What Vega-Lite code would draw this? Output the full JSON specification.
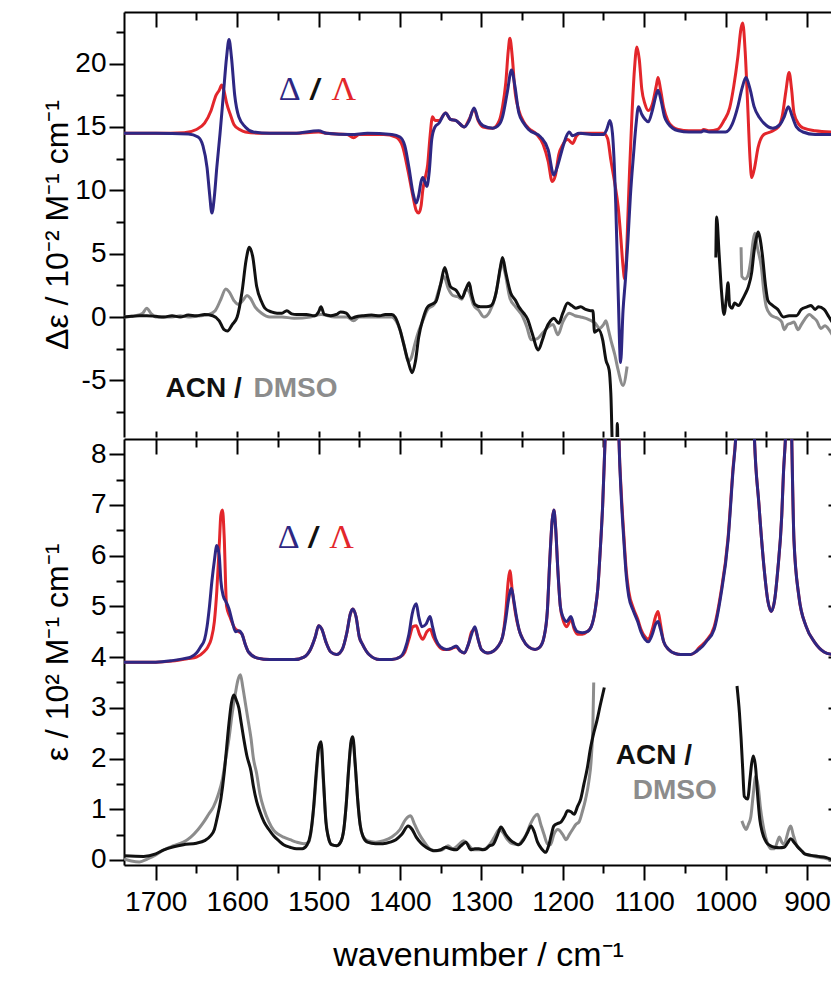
{
  "$schema": "https://vega.github.io/schema/vega-lite/v6.json",
  "background": "white",
  "padding": {"left": 41, "top": 11, "right": 0, "bottom": 0},
  "spacing": 0,
  "config": {
    "view": {"stroke": null},
    "line": {"interpolate": "monotone"},
    "axis": {"labelFont": "Liberation Sans", "titleFont": "Liberation Sans", "labelFontSize": 28, "titleFontSize": 32, "titleFontWeight": "normal", "labelColor": "black", "titleColor": "black", "tickColor": "black", "domainColor": "black", "tickWidth": 2, "domainWidth": 2, "grid": false}
  },
  "datasets": {
    "tR": [{"w":1739,"v":14.5},{"w":1700,"v":14.5},{"w":1665,"v":14.55},{"w":1650,"v":14.8},{"w":1640,"v":15.3},{"w":1632,"v":16.3},{"w":1626,"v":17.5},{"w":1622,"v":17.9},{"w":1619,"v":18.3},{"w":1616,"v":17.8},{"w":1613,"v":16.9},{"w":1608,"v":15.9},{"w":1604,"v":15.2},{"w":1597,"v":14.8},{"w":1590,"v":14.6},{"w":1570,"v":14.5},{"w":1530,"v":14.5},{"w":1500,"v":14.6},{"w":1490,"v":14.5},{"w":1465,"v":14.4},{"w":1457,"v":14.15},{"w":1450,"v":14.4},{"w":1420,"v":14.4},{"w":1405,"v":14.2},{"w":1397,"v":13.5},{"w":1390,"v":11.5},{"w":1384,"v":9.5},{"w":1380,"v":8.4},{"w":1377,"v":8.2},{"w":1374,"v":8.8},{"w":1372,"v":10.0},{"w":1369,"v":11.0},{"w":1366,"v":12.0},{"w":1363,"v":14.3},{"w":1360,"v":15.8},{"w":1357,"v":15.5},{"w":1352,"v":15.5},{"w":1344,"v":16.1},{"w":1338,"v":15.6},{"w":1331,"v":15.5},{"w":1321,"v":15.0},{"w":1315,"v":15.6},{"w":1309,"v":16.4},{"w":1304,"v":15.5},{"w":1298,"v":15.0},{"w":1286,"v":14.9},{"w":1278,"v":15.5},{"w":1274,"v":16.6},{"w":1270,"v":18.5},{"w":1267,"v":21.0},{"w":1265,"v":22.0},{"w":1262,"v":20.5},{"w":1259,"v":18.0},{"w":1254,"v":16.3},{"w":1248,"v":15.4},{"w":1242,"v":14.9},{"w":1232,"v":14.4},{"w":1224,"v":13.6},{"w":1218,"v":12.3},{"w":1213,"v":10.7},{"w":1209,"v":11.2},{"w":1205,"v":12.8},{"w":1200,"v":13.6},{"w":1194,"v":14.0},{"w":1188,"v":13.7},{"w":1183,"v":14.3},{"w":1178,"v":14.5},{"w":1150,"v":14.5},{"w":1145,"v":14.1},{"w":1141,"v":12.4},{"w":1136,"v":10.5},{"w":1132,"v":8.7},{"w":1129,"v":6.5},{"w":1126,"v":4.0},{"w":1124,"v":3.0},{"w":1122,"v":4.5},{"w":1120,"v":8.0},{"w":1118,"v":11.5},{"w":1115,"v":16.0},{"w":1112,"v":19.5},{"w":1109,"v":21.3},{"w":1106,"v":20.3},{"w":1103,"v":18.0},{"w":1099,"v":16.8},{"w":1095,"v":16.3},{"w":1090,"v":16.8},{"w":1085,"v":18.3},{"w":1083,"v":18.9},{"w":1080,"v":18.0},{"w":1076,"v":16.5},{"w":1071,"v":15.5},{"w":1065,"v":15.0},{"w":1058,"v":14.8},{"w":1045,"v":14.7},{"w":1030,"v":14.7},{"w":1027,"v":14.8},{"w":1020,"v":14.7},{"w":1010,"v":14.8},{"w":1002,"v":15.5},{"w":995,"v":16.5},{"w":990,"v":18.2},{"w":985,"v":20.5},{"w":981,"v":22.8},{"w":979,"v":23.2},{"w":976,"v":21.0},{"w":973,"v":16.9},{"w":970,"v":12.5},{"w":968,"v":11.0},{"w":965,"v":11.6},{"w":960,"v":13.4},{"w":953,"v":14.4},{"w":945,"v":14.6},{"w":935,"v":15.0},{"w":930,"v":16.0},{"w":926,"v":17.8},{"w":922,"v":19.3},{"w":919,"v":18.0},{"w":916,"v":16.1},{"w":910,"v":15.2},{"w":904,"v":14.9},{"w":890,"v":14.7},{"w":869,"v":14.6}],
    "tB": [{"w":1739,"v":14.5},{"w":1700,"v":14.5},{"w":1660,"v":14.45},{"w":1648,"v":14.2},{"w":1642,"v":13.5},{"w":1637,"v":11.8},{"w":1634,"v":9.8},{"w":1631,"v":8.2},{"w":1628,"v":9.5},{"w":1625,"v":11.8},{"w":1621,"v":14.5},{"w":1617,"v":17.5},{"w":1613,"v":20.5},{"w":1610,"v":21.9},{"w":1607,"v":20.5},{"w":1603,"v":17.5},{"w":1598,"v":15.8},{"w":1590,"v":15.0},{"w":1580,"v":14.6},{"w":1560,"v":14.5},{"w":1530,"v":14.5},{"w":1500,"v":14.7},{"w":1490,"v":14.5},{"w":1460,"v":14.4},{"w":1440,"v":14.5},{"w":1410,"v":14.4},{"w":1400,"v":14.2},{"w":1394,"v":13.5},{"w":1389,"v":11.8},{"w":1384,"v":9.8},{"w":1380,"v":9.0},{"w":1377,"v":9.6},{"w":1374,"v":10.7},{"w":1372,"v":11.0},{"w":1369,"v":10.6},{"w":1367,"v":10.3},{"w":1364,"v":11.5},{"w":1361,"v":14.0},{"w":1357,"v":15.0},{"w":1352,"v":15.3},{"w":1344,"v":16.1},{"w":1338,"v":15.6},{"w":1331,"v":15.5},{"w":1321,"v":15.0},{"w":1315,"v":15.5},{"w":1309,"v":16.5},{"w":1304,"v":15.6},{"w":1298,"v":15.1},{"w":1286,"v":14.9},{"w":1278,"v":15.2},{"w":1274,"v":15.8},{"w":1268,"v":17.8},{"w":1263,"v":19.5},{"w":1259,"v":18.3},{"w":1254,"v":16.1},{"w":1248,"v":15.3},{"w":1242,"v":14.8},{"w":1227,"v":14.2},{"w":1218,"v":13.2},{"w":1211,"v":11.2},{"w":1207,"v":11.8},{"w":1200,"v":13.4},{"w":1196,"v":14.2},{"w":1192,"v":14.6},{"w":1188,"v":14.3},{"w":1180,"v":14.5},{"w":1160,"v":14.4},{"w":1150,"v":14.4},{"w":1146,"v":14.8},{"w":1142,"v":15.5},{"w":1139,"v":14.5},{"w":1135,"v":9.0},{"w":1132,"v":2.0},{"w":1129,"v":-3.6},{"w":1126,"v":0.5},{"w":1123,"v":3.0},{"w":1120,"v":6.0},{"w":1117,"v":9.5},{"w":1113,"v":12.9},{"w":1110,"v":15.2},{"w":1107,"v":16.6},{"w":1103,"v":16.0},{"w":1099,"v":15.6},{"w":1095,"v":15.4},{"w":1090,"v":16.3},{"w":1085,"v":17.6},{"w":1083,"v":17.9},{"w":1079,"v":17.0},{"w":1075,"v":15.8},{"w":1071,"v":15.3},{"w":1065,"v":14.9},{"w":1058,"v":14.7},{"w":1045,"v":14.6},{"w":1030,"v":14.6},{"w":1027,"v":14.7},{"w":1020,"v":14.6},{"w":1000,"v":14.6},{"w":992,"v":15.2},{"w":985,"v":16.6},{"w":980,"v":18.0},{"w":975,"v":18.9},{"w":970,"v":18.0},{"w":965,"v":16.6},{"w":958,"v":15.7},{"w":953,"v":15.3},{"w":942,"v":14.9},{"w":933,"v":15.2},{"w":928,"v":15.8},{"w":923,"v":16.6},{"w":918,"v":15.8},{"w":913,"v":15.0},{"w":905,"v":14.6},{"w":890,"v":14.4},{"w":869,"v":14.4}],
    "tK": [{"w":1739,"v":0,"g":"a"},{"w":1730,"v":0.05,"g":"a"},{"w":1720,"v":0.1,"g":"a"},{"w":1711,"v":0.1,"g":"a"},{"w":1700,"v":0.05,"g":"a"},{"w":1690,"v":0.0,"g":"a"},{"w":1680,"v":0.1,"g":"a"},{"w":1670,"v":0.0,"g":"a"},{"w":1660,"v":0.15,"g":"a"},{"w":1650,"v":0.1,"g":"a"},{"w":1640,"v":0.2,"g":"a"},{"w":1630,"v":0.1,"g":"a"},{"w":1622,"v":-0.3,"g":"a"},{"w":1616,"v":-1.0,"g":"a"},{"w":1612,"v":-1.1,"g":"a"},{"w":1606,"v":-0.6,"g":"a"},{"w":1600,"v":0.0,"g":"a"},{"w":1594,"v":2.0,"g":"a"},{"w":1589,"v":4.5,"g":"a"},{"w":1585,"v":5.5,"g":"a"},{"w":1581,"v":4.8,"g":"a"},{"w":1576,"v":2.4,"g":"a"},{"w":1570,"v":1.2,"g":"a"},{"w":1566,"v":0.7,"g":"a"},{"w":1558,"v":0.4,"g":"a"},{"w":1551,"v":0.3,"g":"a"},{"w":1545,"v":0.3,"g":"a"},{"w":1539,"v":0.5,"g":"a"},{"w":1533,"v":0.25,"g":"a"},{"w":1527,"v":0.2,"g":"a"},{"w":1515,"v":0.2,"g":"a"},{"w":1505,"v":0.1,"g":"a"},{"w":1500,"v":0.4,"g":"a"},{"w":1497,"v":0.8,"g":"a"},{"w":1493,"v":0.2,"g":"a"},{"w":1485,"v":0.1,"g":"a"},{"w":1478,"v":0.2,"g":"a"},{"w":1473,"v":0.4,"g":"a"},{"w":1466,"v":0.3,"g":"a"},{"w":1460,"v":-0.1,"g":"a"},{"w":1455,"v":0.0,"g":"a"},{"w":1445,"v":0.1,"g":"a"},{"w":1435,"v":0.15,"g":"a"},{"w":1425,"v":0.1,"g":"a"},{"w":1418,"v":0.2,"g":"a"},{"w":1410,"v":0.2,"g":"a"},{"w":1406,"v":0.0,"g":"a"},{"w":1400,"v":-1.0,"g":"a"},{"w":1396,"v":-2.0,"g":"a"},{"w":1390,"v":-3.5,"g":"a"},{"w":1385,"v":-4.4,"g":"a"},{"w":1381,"v":-3.5,"g":"a"},{"w":1377,"v":-1.6,"g":"a"},{"w":1372,"v":-0.2,"g":"a"},{"w":1366,"v":0.8,"g":"a"},{"w":1361,"v":1.0,"g":"a"},{"w":1356,"v":1.2,"g":"a"},{"w":1350,"v":2.6,"g":"a"},{"w":1345,"v":3.9,"g":"a"},{"w":1341,"v":3.0,"g":"a"},{"w":1338,"v":2.4,"g":"a"},{"w":1331,"v":2.1,"g":"a"},{"w":1324,"v":1.5,"g":"a"},{"w":1319,"v":2.2,"g":"a"},{"w":1315,"v":2.7,"g":"a"},{"w":1312,"v":1.8,"g":"a"},{"w":1308,"v":1.0,"g":"a"},{"w":1301,"v":0.8,"g":"a"},{"w":1294,"v":0.8,"g":"a"},{"w":1288,"v":0.9,"g":"a"},{"w":1282,"v":1.9,"g":"a"},{"w":1277,"v":3.8,"g":"a"},{"w":1274,"v":4.7,"g":"a"},{"w":1270,"v":3.5,"g":"a"},{"w":1264,"v":1.9,"g":"a"},{"w":1258,"v":1.3,"g":"a"},{"w":1254,"v":0.8,"g":"a"},{"w":1248,"v":0.3,"g":"a"},{"w":1243,"v":-0.2,"g":"a"},{"w":1238,"v":-1.2,"g":"a"},{"w":1230,"v":-2.6,"g":"a"},{"w":1225,"v":-1.8,"g":"a"},{"w":1221,"v":-1.0,"g":"a"},{"w":1215,"v":-0.3,"g":"a"},{"w":1211,"v":-0.1,"g":"a"},{"w":1205,"v":-0.5,"g":"a"},{"w":1200,"v":0.3,"g":"a"},{"w":1194,"v":1.1,"g":"a"},{"w":1189,"v":0.9,"g":"a"},{"w":1184,"v":0.7,"g":"a"},{"w":1178,"v":0.8,"g":"a"},{"w":1172,"v":0.6,"g":"a"},{"w":1166,"v":0.5,"g":"a"},{"w":1163,"v":0.5,"g":"a"},{"w":1161,"v":-1.2,"g":"a"},{"w":1156,"v":-1.0,"g":"a"},{"w":1151,"v":-1.8,"g":"a"},{"w":1147,"v":-3.4,"g":"a"},{"w":1143,"v":-4.2,"g":"a"},{"w":1141,"v":-6.0,"g":"a"},{"w":1138,"v":-12,"g":"a"},{"w":1134,"v":-12,"g":"a"},{"w":1133,"v":-8.4,"g":"a"},{"w":1132,"v":-12,"g":"a"},
      {"w":1012,"v":4.7,"g":"b"},{"w":1011,"v":7.9,"g":"b"},{"w":1008,"v":5.0,"g":"b"},{"w":1005,"v":2.0,"g":"b"},{"w":1002,"v":0.2,"g":"b"},{"w":999,"v":1.5,"g":"b"},{"w":997,"v":2.7,"g":"b"},{"w":995,"v":0.9,"g":"b"},{"w":992,"v":0.7,"g":"b"},{"w":989,"v":1.1,"g":"b"},{"w":984,"v":0.9,"g":"b"},{"w":980,"v":1.3,"g":"b"},{"w":976,"v":1.8,"g":"b"},{"w":972,"v":2.4,"g":"b"},{"w":968,"v":3.5,"g":"b"},{"w":965,"v":5.2,"g":"b"},{"w":962,"v":6.3,"g":"b"},{"w":960,"v":6.7,"g":"b"},{"w":958,"v":6.3,"g":"b"},{"w":955,"v":5.0,"g":"b"},{"w":951,"v":2.5,"g":"b"},{"w":948,"v":1.3,"g":"b"},{"w":942,"v":0.9,"g":"b"},{"w":936,"v":0.6,"g":"b"},{"w":929,"v":0.0,"g":"b"},{"w":922,"v":0.1,"g":"b"},{"w":913,"v":0.1,"g":"b"},{"w":907,"v":0.6,"g":"b"},{"w":900,"v":0.8,"g":"b"},{"w":895,"v":0.9,"g":"b"},{"w":890,"v":0.6,"g":"b"},{"w":886,"v":0.8,"g":"b"},{"w":879,"v":0.6,"g":"b"},{"w":873,"v":0.0,"g":"b"},{"w":869,"v":-0.4,"g":"b"}],
    "tG": [{"w":1739,"v":0,"g":"a"},{"w":1725,"v":0.1,"g":"a"},{"w":1716,"v":0.3,"g":"a"},{"w":1711,"v":0.7,"g":"a"},{"w":1706,"v":0.3,"g":"a"},{"w":1700,"v":0.0,"g":"a"},{"w":1680,"v":0.0,"g":"a"},{"w":1670,"v":0.1,"g":"a"},{"w":1660,"v":0.0,"g":"a"},{"w":1645,"v":0.1,"g":"a"},{"w":1635,"v":0.2,"g":"a"},{"w":1627,"v":0.5,"g":"a"},{"w":1620,"v":1.4,"g":"a"},{"w":1614,"v":2.2,"g":"a"},{"w":1610,"v":2.0,"g":"a"},{"w":1604,"v":1.3,"g":"a"},{"w":1599,"v":1.0,"g":"a"},{"w":1593,"v":1.3,"g":"a"},{"w":1588,"v":1.7,"g":"a"},{"w":1584,"v":1.5,"g":"a"},{"w":1578,"v":0.8,"g":"a"},{"w":1570,"v":0.3,"g":"a"},{"w":1560,"v":0.0,"g":"a"},{"w":1545,"v":0.0,"g":"a"},{"w":1530,"v":-0.1,"g":"a"},{"w":1510,"v":0.0,"g":"a"},{"w":1497,"v":0.2,"g":"a"},{"w":1480,"v":0.0,"g":"a"},{"w":1465,"v":0.0,"g":"a"},{"w":1457,"v":-0.3,"g":"a"},{"w":1450,"v":0.0,"g":"a"},{"w":1430,"v":0.0,"g":"a"},{"w":1410,"v":0.0,"g":"a"},{"w":1405,"v":-0.3,"g":"a"},{"w":1400,"v":-1.0,"g":"a"},{"w":1395,"v":-2.2,"g":"a"},{"w":1390,"v":-3.5,"g":"a"},{"w":1386,"v":-3.2,"g":"a"},{"w":1382,"v":-2.2,"g":"a"},{"w":1378,"v":-1.3,"g":"a"},{"w":1372,"v":-0.3,"g":"a"},{"w":1366,"v":0.6,"g":"a"},{"w":1358,"v":1.0,"g":"a"},{"w":1352,"v":2.2,"g":"a"},{"w":1346,"v":3.2,"g":"a"},{"w":1341,"v":2.3,"g":"a"},{"w":1335,"v":1.7,"g":"a"},{"w":1329,"v":1.6,"g":"a"},{"w":1324,"v":1.4,"g":"a"},{"w":1319,"v":2.2,"g":"a"},{"w":1315,"v":2.0,"g":"a"},{"w":1310,"v":1.0,"g":"a"},{"w":1303,"v":0.5,"g":"a"},{"w":1297,"v":0.0,"g":"a"},{"w":1290,"v":0.4,"g":"a"},{"w":1283,"v":1.6,"g":"a"},{"w":1278,"v":3.3,"g":"a"},{"w":1275,"v":4.3,"g":"a"},{"w":1271,"v":3.5,"g":"a"},{"w":1265,"v":1.5,"g":"a"},{"w":1258,"v":0.8,"g":"a"},{"w":1249,"v":0.0,"g":"a"},{"w":1244,"v":-0.8,"g":"a"},{"w":1239,"v":-1.8,"g":"a"},{"w":1231,"v":-1.7,"g":"a"},{"w":1224,"v":-1.2,"g":"a"},{"w":1218,"v":-0.8,"g":"a"},{"w":1212,"v":-0.6,"g":"a"},{"w":1206,"v":-1.4,"g":"a"},{"w":1200,"v":-0.4,"g":"a"},{"w":1192,"v":0.3,"g":"a"},{"w":1185,"v":0.1,"g":"a"},{"w":1178,"v":0.0,"g":"a"},{"w":1168,"v":-0.2,"g":"a"},{"w":1160,"v":-0.5,"g":"a"},{"w":1155,"v":-0.9,"g":"a"},{"w":1150,"v":-0.6,"g":"a"},{"w":1147,"v":-0.3,"g":"a"},{"w":1144,"v":-1.0,"g":"a"},{"w":1141,"v":-1.8,"g":"a"},{"w":1136,"v":-3.0,"g":"a"},{"w":1132,"v":-4.2,"g":"a"},{"w":1126,"v":-5.4,"g":"a"},{"w":1121,"v":-3.9,"g":"a"},
      {"w":981,"v":5.5,"g":"b"},{"w":980,"v":3.2,"g":"b"},{"w":976,"v":3.0,"g":"b"},{"w":973,"v":3.2,"g":"b"},{"w":969,"v":4.5,"g":"b"},{"w":966,"v":6.1,"g":"b"},{"w":964,"v":6.6,"g":"b"},{"w":961,"v":5.5,"g":"b"},{"w":956,"v":3.9,"g":"b"},{"w":953,"v":2.0,"g":"b"},{"w":950,"v":0.8,"g":"b"},{"w":945,"v":0.2,"g":"b"},{"w":940,"v":0.0,"g":"b"},{"w":936,"v":-0.1,"g":"b"},{"w":931,"v":-0.4,"g":"b"},{"w":928,"v":-1.0,"g":"b"},{"w":924,"v":-0.6,"g":"b"},{"w":920,"v":-0.5,"g":"b"},{"w":916,"v":-0.4,"g":"b"},{"w":911,"v":-1.0,"g":"b"},{"w":907,"v":-0.6,"g":"b"},{"w":903,"v":-0.2,"g":"b"},{"w":897,"v":0.2,"g":"b"},{"w":893,"v":0.0,"g":"b"},{"w":888,"v":-0.3,"g":"b"},{"w":883,"v":-0.9,"g":"b"},{"w":878,"v":-0.7,"g":"b"},{"w":873,"v":-1.0,"g":"b"},{"w":869,"v":-1.4,"g":"b"}],
    "bR": [{"w":1739,"v":3.9},{"w":1700,"v":3.9},{"w":1680,"v":3.92},{"w":1660,"v":3.97},{"w":1650,"v":4.0},{"w":1641,"v":4.1},{"w":1636,"v":4.2},{"w":1632,"v":4.35},{"w":1628,"v":4.7},{"w":1625,"v":5.3},{"w":1622,"v":6.2},{"w":1620,"v":6.8},{"w":1618,"v":6.9},{"w":1616,"v":6.4},{"w":1613,"v":5.0},{"w":1609,"v":4.8},{"w":1604,"v":4.6},{"w":1598,"v":4.5},{"w":1594,"v":4.45},{"w":1590,"v":4.25},{"w":1586,"v":4.1},{"w":1575,"v":3.98},{"w":1560,"v":3.95},{"w":1530,"v":3.95},{"w":1518,"v":4.0},{"w":1510,"v":4.15},{"w":1504,"v":4.4},{"w":1500,"v":4.62},{"w":1496,"v":4.55},{"w":1491,"v":4.3},{"w":1485,"v":4.1},{"w":1478,"v":4.05},{"w":1471,"v":4.15},{"w":1465,"v":4.5},{"w":1461,"v":4.85},{"w":1458,"v":4.95},{"w":1454,"v":4.8},{"w":1450,"v":4.4},{"w":1446,"v":4.25},{"w":1438,"v":4.05},{"w":1425,"v":3.95},{"w":1410,"v":3.95},{"w":1400,"v":4.0},{"w":1394,"v":4.1},{"w":1389,"v":4.35},{"w":1384,"v":4.6},{"w":1380,"v":4.62},{"w":1376,"v":4.45},{"w":1372,"v":4.35},{"w":1367,"v":4.5},{"w":1363,"v":4.55},{"w":1359,"v":4.4},{"w":1354,"v":4.25},{"w":1347,"v":4.15},{"w":1340,"v":4.15},{"w":1335,"v":4.18},{"w":1331,"v":4.2},{"w":1326,"v":4.12},{"w":1321,"v":4.08},{"w":1316,"v":4.25},{"w":1312,"v":4.5},{"w":1308,"v":4.55},{"w":1304,"v":4.35},{"w":1300,"v":4.15},{"w":1292,"v":4.08},{"w":1285,"v":4.12},{"w":1280,"v":4.2},{"w":1274,"v":4.4},{"w":1270,"v":4.9},{"w":1267,"v":5.5},{"w":1265,"v":5.7},{"w":1262,"v":5.3},{"w":1258,"v":4.85},{"w":1254,"v":4.55},{"w":1249,"v":4.35},{"w":1242,"v":4.2},{"w":1234,"v":4.15},{"w":1228,"v":4.2},{"w":1223,"v":4.4},{"w":1219,"v":4.9},{"w":1216,"v":5.9},{"w":1213,"v":6.7},{"w":1211,"v":6.9},{"w":1209,"v":6.6},{"w":1206,"v":5.7},{"w":1203,"v":5.0},{"w":1200,"v":4.75},{"w":1195,"v":4.6},{"w":1190,"v":4.75},{"w":1186,"v":4.55},{"w":1182,"v":4.45},{"w":1176,"v":4.45},{"w":1170,"v":4.5},{"w":1165,"v":4.6},{"w":1160,"v":4.95},{"w":1157,"v":5.35},{"w":1154,"v":6.1},{"w":1151,"v":7.0},{"w":1148,"v":8.3},{"w":1144,"v":10},{"w":1138,"v":12},{"w":1134,"v":11},{"w":1131,"v":8.3},{"w":1128,"v":7.2},{"w":1125,"v":6.4},{"w":1122,"v":5.7},{"w":1119,"v":5.3},{"w":1113,"v":4.95},{"w":1108,"v":4.75},{"w":1104,"v":4.55},{"w":1099,"v":4.4},{"w":1095,"v":4.35},{"w":1090,"v":4.55},{"w":1086,"v":4.8},{"w":1083,"v":4.9},{"w":1080,"v":4.65},{"w":1076,"v":4.3},{"w":1070,"v":4.15},{"w":1062,"v":4.07},{"w":1055,"v":4.05},{"w":1043,"v":4.05},{"w":1037,"v":4.1},{"w":1033,"v":4.18},{"w":1028,"v":4.25},{"w":1024,"v":4.32},{"w":1014,"v":4.6},{"w":1006,"v":5.25},{"w":997,"v":6.35},{"w":991,"v":7.7},{"w":987,"v":8.5},{"w":981,"v":12},{"w":976,"v":14},{"w":970,"v":12},{"w":965,"v":8.5},{"w":959,"v":7.0},{"w":953,"v":5.8},{"w":948,"v":5.1},{"w":944,"v":4.9},{"w":940,"v":5.1},{"w":936,"v":5.7},{"w":931,"v":6.8},{"w":929,"v":7.6},{"w":926,"v":8.5},{"w":922,"v":11},{"w":919,"v":8.5},{"w":916,"v":6.3},{"w":910,"v":5.2},{"w":901,"v":4.6},{"w":891,"v":4.3},{"w":879,"v":4.1},{"w":869,"v":4.05}],
    "bB": [{"w":1739,"v":3.9},{"w":1700,"v":3.9},{"w":1680,"v":3.93},{"w":1665,"v":3.97},{"w":1657,"v":4.0},{"w":1650,"v":4.08},{"w":1645,"v":4.2},{"w":1640,"v":4.35},{"w":1637,"v":4.6},{"w":1634,"v":5.0},{"w":1631,"v":5.5},{"w":1628,"v":5.9},{"w":1625,"v":6.2},{"w":1622,"v":6.0},{"w":1620,"v":5.5},{"w":1617,"v":5.2},{"w":1614,"v":5.1},{"w":1610,"v":4.95},{"w":1606,"v":4.7},{"w":1602,"v":4.5},{"w":1598,"v":4.52},{"w":1594,"v":4.45},{"w":1590,"v":4.25},{"w":1586,"v":4.1},{"w":1575,"v":3.98},{"w":1560,"v":3.95},{"w":1530,"v":3.95},{"w":1518,"v":4.0},{"w":1510,"v":4.15},{"w":1504,"v":4.4},{"w":1500,"v":4.62},{"w":1496,"v":4.55},{"w":1491,"v":4.3},{"w":1485,"v":4.1},{"w":1478,"v":4.05},{"w":1471,"v":4.15},{"w":1465,"v":4.5},{"w":1461,"v":4.85},{"w":1458,"v":4.95},{"w":1454,"v":4.8},{"w":1450,"v":4.4},{"w":1446,"v":4.25},{"w":1438,"v":4.05},{"w":1425,"v":3.95},{"w":1410,"v":3.95},{"w":1400,"v":4.0},{"w":1394,"v":4.15},{"w":1389,"v":4.45},{"w":1385,"v":4.85},{"w":1380,"v":5.05},{"w":1377,"v":4.8},{"w":1373,"v":4.6},{"w":1368,"v":4.65},{"w":1363,"v":4.8},{"w":1360,"v":4.6},{"w":1356,"v":4.35},{"w":1350,"v":4.2},{"w":1343,"v":4.15},{"w":1337,"v":4.17},{"w":1331,"v":4.22},{"w":1326,"v":4.12},{"w":1321,"v":4.08},{"w":1316,"v":4.25},{"w":1312,"v":4.45},{"w":1308,"v":4.6},{"w":1304,"v":4.35},{"w":1300,"v":4.15},{"w":1292,"v":4.08},{"w":1285,"v":4.12},{"w":1280,"v":4.2},{"w":1274,"v":4.4},{"w":1270,"v":4.75},{"w":1267,"v":5.1},{"w":1263,"v":5.35},{"w":1260,"v":5.1},{"w":1257,"v":4.8},{"w":1253,"v":4.5},{"w":1249,"v":4.35},{"w":1242,"v":4.2},{"w":1234,"v":4.15},{"w":1228,"v":4.2},{"w":1223,"v":4.4},{"w":1219,"v":4.9},{"w":1216,"v":5.9},{"w":1213,"v":6.7},{"w":1211,"v":6.9},{"w":1209,"v":6.6},{"w":1206,"v":5.7},{"w":1203,"v":5.0},{"w":1200,"v":4.8},{"w":1195,"v":4.7},{"w":1190,"v":4.8},{"w":1186,"v":4.6},{"w":1182,"v":4.5},{"w":1176,"v":4.48},{"w":1170,"v":4.5},{"w":1165,"v":4.6},{"w":1160,"v":4.95},{"w":1157,"v":5.35},{"w":1154,"v":6.1},{"w":1151,"v":7.0},{"w":1148,"v":8.3},{"w":1144,"v":10},{"w":1138,"v":12},{"w":1134,"v":11},{"w":1131,"v":8.3},{"w":1128,"v":7.1},{"w":1125,"v":6.3},{"w":1122,"v":5.6},{"w":1119,"v":5.2},{"w":1113,"v":4.9},{"w":1108,"v":4.7},{"w":1104,"v":4.5},{"w":1099,"v":4.35},{"w":1095,"v":4.3},{"w":1090,"v":4.45},{"w":1086,"v":4.65},{"w":1083,"v":4.7},{"w":1080,"v":4.55},{"w":1076,"v":4.3},{"w":1070,"v":4.15},{"w":1062,"v":4.07},{"w":1055,"v":4.05},{"w":1043,"v":4.05},{"w":1037,"v":4.1},{"w":1033,"v":4.15},{"w":1028,"v":4.22},{"w":1024,"v":4.3},{"w":1014,"v":4.55},{"w":1006,"v":5.2},{"w":997,"v":6.3},{"w":991,"v":7.65},{"w":987,"v":8.5},{"w":981,"v":12},{"w":976,"v":14},{"w":970,"v":12},{"w":965,"v":8.5},{"w":959,"v":7.0},{"w":953,"v":5.8},{"w":948,"v":5.1},{"w":944,"v":4.9},{"w":940,"v":5.1},{"w":936,"v":5.7},{"w":931,"v":6.8},{"w":929,"v":7.6},{"w":926,"v":8.5},{"w":922,"v":11},{"w":919,"v":8.5},{"w":916,"v":6.3},{"w":910,"v":5.2},{"w":901,"v":4.6},{"w":891,"v":4.3},{"w":879,"v":4.1},{"w":869,"v":4.05}],
    "bK": [{"w":1739,"v":0.08,"g":"a"},{"w":1715,"v":0.07,"g":"a"},{"w":1700,"v":0.12,"g":"a"},{"w":1690,"v":0.2,"g":"a"},{"w":1678,"v":0.26,"g":"a"},{"w":1666,"v":0.3,"g":"a"},{"w":1650,"v":0.33,"g":"a"},{"w":1640,"v":0.38,"g":"a"},{"w":1633,"v":0.47,"g":"a"},{"w":1628,"v":0.6,"g":"a"},{"w":1625,"v":0.8,"g":"a"},{"w":1620,"v":1.2,"g":"a"},{"w":1616,"v":1.7,"g":"a"},{"w":1613,"v":2.2,"g":"a"},{"w":1610,"v":2.7,"g":"a"},{"w":1607,"v":3.1,"g":"a"},{"w":1604,"v":3.25,"g":"a"},{"w":1601,"v":3.15,"g":"a"},{"w":1598,"v":3.0,"g":"a"},{"w":1595,"v":2.7,"g":"a"},{"w":1592,"v":2.4,"g":"a"},{"w":1588,"v":2.05,"g":"a"},{"w":1583,"v":1.75,"g":"a"},{"w":1580,"v":1.45,"g":"a"},{"w":1576,"v":1.15,"g":"a"},{"w":1572,"v":0.95,"g":"a"},{"w":1567,"v":0.75,"g":"a"},{"w":1561,"v":0.6,"g":"a"},{"w":1555,"v":0.47,"g":"a"},{"w":1549,"v":0.38,"g":"a"},{"w":1543,"v":0.3,"g":"a"},{"w":1535,"v":0.25,"g":"a"},{"w":1527,"v":0.22,"g":"a"},{"w":1520,"v":0.22,"g":"a"},{"w":1514,"v":0.3,"g":"a"},{"w":1510,"v":0.5,"g":"a"},{"w":1506,"v":1.05,"g":"a"},{"w":1503,"v":1.7,"g":"a"},{"w":1500,"v":2.2,"g":"a"},{"w":1497,"v":2.33,"g":"a"},{"w":1494,"v":1.6,"g":"a"},{"w":1491,"v":0.75,"g":"a"},{"w":1488,"v":0.45,"g":"a"},{"w":1484,"v":0.3,"g":"a"},{"w":1478,"v":0.28,"g":"a"},{"w":1473,"v":0.35,"g":"a"},{"w":1469,"v":0.6,"g":"a"},{"w":1466,"v":1.1,"g":"a"},{"w":1463,"v":1.8,"g":"a"},{"w":1460,"v":2.35,"g":"a"},{"w":1458,"v":2.43,"g":"a"},{"w":1455,"v":1.9,"g":"a"},{"w":1452,"v":1.2,"g":"a"},{"w":1449,"v":0.7,"g":"a"},{"w":1445,"v":0.45,"g":"a"},{"w":1440,"v":0.35,"g":"a"},{"w":1430,"v":0.32,"g":"a"},{"w":1421,"v":0.32,"g":"a"},{"w":1412,"v":0.35,"g":"a"},{"w":1405,"v":0.4,"g":"a"},{"w":1398,"v":0.5,"g":"a"},{"w":1390,"v":0.67,"g":"a"},{"w":1385,"v":0.6,"g":"a"},{"w":1380,"v":0.45,"g":"a"},{"w":1374,"v":0.33,"g":"a"},{"w":1368,"v":0.25,"g":"a"},{"w":1362,"v":0.2,"g":"a"},{"w":1358,"v":0.18,"g":"a"},{"w":1350,"v":0.2,"g":"a"},{"w":1344,"v":0.25,"g":"a"},{"w":1338,"v":0.22,"g":"a"},{"w":1331,"v":0.2,"g":"a"},{"w":1325,"v":0.28,"g":"a"},{"w":1319,"v":0.35,"g":"a"},{"w":1313,"v":0.2,"g":"a"},{"w":1308,"v":0.22,"g":"a"},{"w":1303,"v":0.22,"g":"a"},{"w":1298,"v":0.2,"g":"a"},{"w":1294,"v":0.22,"g":"a"},{"w":1290,"v":0.28,"g":"a"},{"w":1286,"v":0.3,"g":"a"},{"w":1280,"v":0.5,"g":"a"},{"w":1276,"v":0.65,"g":"a"},{"w":1270,"v":0.5,"g":"a"},{"w":1265,"v":0.4,"g":"a"},{"w":1261,"v":0.35,"g":"a"},{"w":1254,"v":0.3,"g":"a"},{"w":1248,"v":0.4,"g":"a"},{"w":1243,"v":0.55,"g":"a"},{"w":1239,"v":0.67,"g":"a"},{"w":1235,"v":0.55,"g":"a"},{"w":1231,"v":0.35,"g":"a"},{"w":1226,"v":0.22,"g":"a"},{"w":1221,"v":0.15,"g":"a"},{"w":1217,"v":0.3,"g":"a"},{"w":1214,"v":0.5,"g":"a"},{"w":1211,"v":0.67,"g":"a"},{"w":1206,"v":0.72,"g":"a"},{"w":1202,"v":0.75,"g":"a"},{"w":1198,"v":0.85,"g":"a"},{"w":1194,"v":0.97,"g":"a"},{"w":1190,"v":0.95,"g":"a"},{"w":1186,"v":0.9,"g":"a"},{"w":1182,"v":1.05,"g":"a"},{"w":1178,"v":1.2,"g":"a"},{"w":1174,"v":1.5,"g":"a"},{"w":1170,"v":1.8,"g":"a"},{"w":1166,"v":2.2,"g":"a"},{"w":1162,"v":2.5,"g":"a"},{"w":1158,"v":2.75,"g":"a"},{"w":1154,"v":3.05,"g":"a"},{"w":1149,"v":3.4,"g":"a"},
      {"w":986,"v":3.43,"g":"b"},{"w":983,"v":2.9,"g":"b"},{"w":981,"v":2.4,"g":"b"},{"w":979,"v":1.8,"g":"b"},{"w":977,"v":1.25,"g":"b"},{"w":973,"v":1.2,"g":"b"},{"w":970,"v":1.6,"g":"b"},{"w":968,"v":1.9,"g":"b"},{"w":966,"v":2.05,"g":"b"},{"w":963,"v":1.8,"g":"b"},{"w":961,"v":1.35,"g":"b"},{"w":958,"v":0.8,"g":"b"},{"w":955,"v":0.55,"g":"b"},{"w":950,"v":0.35,"g":"b"},{"w":945,"v":0.28,"g":"b"},{"w":940,"v":0.25,"g":"b"},{"w":934,"v":0.24,"g":"b"},{"w":928,"v":0.25,"g":"b"},{"w":924,"v":0.33,"g":"b"},{"w":920,"v":0.42,"g":"b"},{"w":916,"v":0.35,"g":"b"},{"w":911,"v":0.25,"g":"b"},{"w":906,"v":0.17,"g":"b"},{"w":903,"v":0.12,"g":"b"},{"w":895,"v":0.09,"g":"b"},{"w":886,"v":0.07,"g":"b"},{"w":877,"v":0.05,"g":"b"},{"w":869,"v":0.0,"g":"b"}],
    "bG": [{"w":1739,"v":0.02,"g":"a"},{"w":1730,"v":-0.02,"g":"a"},{"w":1720,"v":-0.04,"g":"a"},{"w":1710,"v":0.02,"g":"a"},{"w":1700,"v":0.1,"g":"a"},{"w":1690,"v":0.2,"g":"a"},{"w":1678,"v":0.28,"g":"a"},{"w":1666,"v":0.35,"g":"a"},{"w":1657,"v":0.45,"g":"a"},{"w":1648,"v":0.6,"g":"a"},{"w":1641,"v":0.75,"g":"a"},{"w":1635,"v":0.9,"g":"a"},{"w":1629,"v":1.05,"g":"a"},{"w":1623,"v":1.3,"g":"a"},{"w":1618,"v":1.6,"g":"a"},{"w":1614,"v":2.0,"g":"a"},{"w":1610,"v":2.4,"g":"a"},{"w":1606,"v":2.9,"g":"a"},{"w":1602,"v":3.3,"g":"a"},{"w":1599,"v":3.55,"g":"a"},{"w":1596,"v":3.65,"g":"a"},{"w":1593,"v":3.4,"g":"a"},{"w":1590,"v":3.1,"g":"a"},{"w":1587,"v":2.8,"g":"a"},{"w":1583,"v":2.4,"g":"a"},{"w":1580,"v":2.0,"g":"a"},{"w":1576,"v":1.7,"g":"a"},{"w":1572,"v":1.3,"g":"a"},{"w":1567,"v":1.0,"g":"a"},{"w":1561,"v":0.75,"g":"a"},{"w":1555,"v":0.58,"g":"a"},{"w":1549,"v":0.5,"g":"a"},{"w":1543,"v":0.45,"g":"a"},{"w":1535,"v":0.4,"g":"a"},{"w":1527,"v":0.35,"g":"a"},{"w":1518,"v":0.32,"g":"a"},{"w":1512,"v":0.35,"g":"a"},{"w":1508,"v":0.7,"g":"a"},{"w":1505,"v":1.2,"g":"a"},{"w":1502,"v":1.8,"g":"a"},{"w":1500,"v":2.2,"g":"a"},{"w":1497,"v":2.28,"g":"a"},{"w":1494,"v":1.5,"g":"a"},{"w":1491,"v":0.8,"g":"a"},{"w":1488,"v":0.45,"g":"a"},{"w":1484,"v":0.3,"g":"a"},{"w":1478,"v":0.28,"g":"a"},{"w":1473,"v":0.35,"g":"a"},{"w":1469,"v":0.6,"g":"a"},{"w":1466,"v":1.1,"g":"a"},{"w":1463,"v":1.8,"g":"a"},{"w":1460,"v":2.3,"g":"a"},{"w":1458,"v":2.38,"g":"a"},{"w":1455,"v":1.85,"g":"a"},{"w":1452,"v":1.2,"g":"a"},{"w":1449,"v":0.7,"g":"a"},{"w":1445,"v":0.45,"g":"a"},{"w":1440,"v":0.38,"g":"a"},{"w":1430,"v":0.35,"g":"a"},{"w":1420,"v":0.38,"g":"a"},{"w":1410,"v":0.45,"g":"a"},{"w":1400,"v":0.6,"g":"a"},{"w":1393,"v":0.8,"g":"a"},{"w":1387,"v":0.87,"g":"a"},{"w":1382,"v":0.7,"g":"a"},{"w":1376,"v":0.5,"g":"a"},{"w":1370,"v":0.35,"g":"a"},{"w":1362,"v":0.2,"g":"a"},{"w":1355,"v":0.18,"g":"a"},{"w":1348,"v":0.2,"g":"a"},{"w":1341,"v":0.28,"g":"a"},{"w":1335,"v":0.22,"g":"a"},{"w":1328,"v":0.3,"g":"a"},{"w":1322,"v":0.38,"g":"a"},{"w":1316,"v":0.3,"g":"a"},{"w":1310,"v":0.2,"g":"a"},{"w":1302,"v":0.2,"g":"a"},{"w":1295,"v":0.22,"g":"a"},{"w":1290,"v":0.3,"g":"a"},{"w":1284,"v":0.45,"g":"a"},{"w":1278,"v":0.6,"g":"a"},{"w":1274,"v":0.55,"g":"a"},{"w":1268,"v":0.4,"g":"a"},{"w":1262,"v":0.32,"g":"a"},{"w":1255,"v":0.3,"g":"a"},{"w":1250,"v":0.38,"g":"a"},{"w":1245,"v":0.5,"g":"a"},{"w":1240,"v":0.7,"g":"a"},{"w":1235,"v":0.85,"g":"a"},{"w":1231,"v":0.9,"g":"a"},{"w":1227,"v":0.7,"g":"a"},{"w":1223,"v":0.5,"g":"a"},{"w":1219,"v":0.32,"g":"a"},{"w":1215,"v":0.3,"g":"a"},{"w":1211,"v":0.5,"g":"a"},{"w":1206,"v":0.6,"g":"a"},{"w":1200,"v":0.5,"g":"a"},{"w":1196,"v":0.4,"g":"a"},{"w":1192,"v":0.5,"g":"a"},{"w":1188,"v":0.6,"g":"a"},{"w":1184,"v":0.7,"g":"a"},{"w":1180,"v":0.75,"g":"a"},{"w":1176,"v":0.95,"g":"a"},{"w":1172,"v":1.2,"g":"a"},{"w":1168,"v":1.55,"g":"a"},{"w":1165,"v":2.0,"g":"a"},{"w":1163,"v":2.7,"g":"a"},{"w":1162,"v":3.5,"g":"a"},
      {"w":980,"v":0.77,"g":"b"},{"w":977,"v":0.65,"g":"b"},{"w":975,"v":0.6,"g":"b"},{"w":972,"v":0.7,"g":"b"},{"w":969,"v":0.85,"g":"b"},{"w":966,"v":1.3,"g":"b"},{"w":963,"v":1.65,"g":"b"},{"w":960,"v":1.45,"g":"b"},{"w":957,"v":1.0,"g":"b"},{"w":953,"v":0.6,"g":"b"},{"w":949,"v":0.35,"g":"b"},{"w":944,"v":0.22,"g":"b"},{"w":940,"v":0.22,"g":"b"},{"w":936,"v":0.38,"g":"b"},{"w":934,"v":0.45,"g":"b"},{"w":931,"v":0.35,"g":"b"},{"w":928,"v":0.3,"g":"b"},{"w":925,"v":0.45,"g":"b"},{"w":922,"v":0.62,"g":"b"},{"w":920,"v":0.67,"g":"b"},{"w":917,"v":0.5,"g":"b"},{"w":913,"v":0.3,"g":"b"},{"w":908,"v":0.2,"g":"b"},{"w":903,"v":0.12,"g":"b"},{"w":895,"v":0.08,"g":"b"},{"w":886,"v":0.05,"g":"b"},{"w":877,"v":0.03,"g":"b"},{"w":869,"v":0.0,"g":"b"}]
  },
  "vconcat": [
    {
      "width": 708,
      "height": 425,
      "resolve": {"axis": {"x": "independent", "y": "independent"}},
      "layer": [
        {
          "data": {"name": "tG"},
          "mark": {"type": "line", "color": "#8c8c8c", "strokeWidth": 3, "clip": true},
          "encoding": {
            "x": {"field": "w", "type": "quantitative", "scale": {"domain": [869.3, 1739], "reverse": true, "nice": false, "zero": false},
                  "axis": {"orient": "top", "values": [900,1000,1100,1200,1300,1400,1500,1600,1700], "tickSize": -15, "labels": false, "title": null, "domain": true}},
            "y": {"field": "v", "type": "quantitative", "scale": {"domain": [-9.47, 24.07], "nice": false, "zero": false},
                  "axis": {"orient": "left", "values": [-5,0,5,10,15,20], "tickSize": 15, "labelPadding": 3, "labelExpr": "replace(datum.label, '\u2212', '-')", "minExtent": 50, "maxExtent": 50, "title": "Δε / 10⁻² M⁻¹ cm⁻¹", "titlePadding": 0, "domain": true}},
            "detail": {"field": "g"}
          }
        },
        {
          "data": {"name": "tK"},
          "mark": {"type": "line", "color": "#111111", "strokeWidth": 3, "clip": true},
          "encoding": {
            "x": {"field": "w", "type": "quantitative", "axis": {"orient": "top", "values": [950,1050,1150,1250,1350,1450,1550,1650], "tickSize": -8, "labels": false, "title": null, "domain": false}},
            "y": {"field": "v", "type": "quantitative", "axis": {"orient": "left", "values": [-7.5,-2.5,2.5,7.5,12.5,17.5,22.5], "tickSize": 8, "labels": false, "title": null, "domain": false, "minExtent": 50, "maxExtent": 50}},
            "detail": {"field": "g"}
          }
        },
        {
          "data": {"name": "tR"},
          "mark": {"type": "line", "color": "#e3262b", "strokeWidth": 3, "clip": true},
          "encoding": {
            "x": {"field": "w", "type": "quantitative", "axis": {"orient": "bottom", "values": [900,950,1000,1050,1100,1150,1200,1250,1300,1350,1400,1450,1500,1550,1600,1650,1700], "tickSize": -6, "labels": false, "title": null, "domain": false}},
            "y": {"field": "v", "type": "quantitative", "axis": null}
          }
        },
        {
          "data": {"name": "tB"},
          "mark": {"type": "line", "color": "#2e2783", "strokeWidth": 3, "clip": true},
          "encoding": {
            "x": {"field": "w", "type": "quantitative", "axis": null},
            "y": {"field": "v", "type": "quantitative", "axis": null}
          }
        },
        {
          "data": {"values": [{"w": 1549, "v": 17.1, "t": "Δ"}]},
          "mark": {"type": "text", "font": "Liberation Serif", "fontSize": 34, "color": "#2e2783", "align": "left", "baseline": "alphabetic"},
          "encoding": {"x": {"field": "w", "type": "quantitative", "axis": null}, "y": {"field": "v", "type": "quantitative", "axis": null}, "text": {"field": "t"}}
        },
        {
          "data": {"values": [{"w": 1510, "v": 17.1, "t": "/"}]},
          "mark": {"type": "text", "font": "Liberation Sans", "fontSize": 30, "fontWeight": "bold", "fontStyle": "italic", "color": "#111111", "align": "left", "baseline": "alphabetic"},
          "encoding": {"x": {"field": "w", "type": "quantitative", "axis": null}, "y": {"field": "v", "type": "quantitative", "axis": null}, "text": {"field": "t"}}
        },
        {
          "data": {"values": [{"w": 1484, "v": 17.1, "t": "Λ"}]},
          "mark": {"type": "text", "font": "Liberation Serif", "fontSize": 34, "color": "#e3262b", "align": "left", "baseline": "alphabetic"},
          "encoding": {"x": {"field": "w", "type": "quantitative", "axis": null}, "y": {"field": "v", "type": "quantitative", "axis": null}, "text": {"field": "t"}}
        },
        {
          "data": {"values": [{"w": 1688, "v": -6.3, "t": "ACN /"}]},
          "mark": {"type": "text", "font": "Liberation Sans", "fontSize": 28, "fontWeight": "bold", "color": "#111111", "align": "left", "baseline": "alphabetic"},
          "encoding": {"x": {"field": "w", "type": "quantitative", "axis": null}, "y": {"field": "v", "type": "quantitative", "axis": null}, "text": {"field": "t"}}
        },
        {
          "data": {"values": [{"w": 1580, "v": -6.3, "t": "DMSO"}]},
          "mark": {"type": "text", "font": "Liberation Sans", "fontSize": 28, "fontWeight": "bold", "color": "#8c8c8c", "align": "left", "baseline": "alphabetic"},
          "encoding": {"x": {"field": "w", "type": "quantitative", "axis": null}, "y": {"field": "v", "type": "quantitative", "axis": null}, "text": {"field": "t"}}
        }
      ]
    },
    {
      "width": 708,
      "height": 426,
      "resolve": {"axis": {"x": "independent", "y": "independent"}},
      "layer": [
        {
          "data": {"name": "bG"},
          "mark": {"type": "line", "color": "#8c8c8c", "strokeWidth": 3, "clip": true},
          "encoding": {
            "x": {"field": "w", "type": "quantitative", "scale": {"domain": [869.3, 1739], "reverse": true, "nice": false, "zero": false},
                  "axis": {"orient": "bottom", "values": [900,1000,1100,1200,1300,1400,1500,1600,1700], "format": "d", "tickSize": 15, "labelPadding": 8, "labelFontSize": 28, "title": "wavenumber / cm⁻¹", "titleFontSize": 34, "titlePadding": 22, "domain": true}},
            "y": {"field": "v", "type": "quantitative", "scale": {"domain": [-0.1, 8.3], "nice": false, "zero": false},
                  "axis": {"orient": "left", "values": [0,1,2,3,4,5,6,7,8], "tickSize": 15, "labelPadding": 3, "minExtent": 50, "maxExtent": 50, "title": "ε / 10² M⁻¹ cm⁻¹", "titlePadding": 0, "domain": true}},
            "detail": {"field": "g"}
          }
        },
        {
          "data": {"name": "bK"},
          "mark": {"type": "line", "color": "#111111", "strokeWidth": 3, "clip": true},
          "encoding": {
            "x": {"field": "w", "type": "quantitative", "axis": {"orient": "bottom", "values": [950,1050,1150,1250,1350,1450,1550,1650], "tickSize": 8, "labels": false, "title": null, "domain": false}},
            "y": {"field": "v", "type": "quantitative", "axis": {"orient": "left", "values": [0.5,1.5,2.5,3.5,4.5,5.5,6.5,7.5], "tickSize": 8, "labels": false, "title": null, "domain": false, "minExtent": 50, "maxExtent": 50}},
            "detail": {"field": "g"}
          }
        },
        {
          "data": {"name": "bR"},
          "mark": {"type": "line", "color": "#e3262b", "strokeWidth": 3, "clip": true},
          "encoding": {
            "x": {"field": "w", "type": "quantitative", "axis": {"orient": "top", "values": [900,1000,1100,1200,1300,1400,1500,1600,1700], "tickSize": -15, "labels": false, "title": null, "domain": true}},
            "y": {"field": "v", "type": "quantitative", "axis": {"orient": "right", "values": [0,1,2,3,4,5,6,7,8], "tickSize": -4, "labels": false, "title": null, "domain": false, "minExtent": 0, "maxExtent": 0}}
          }
        },
        {
          "data": {"name": "bB"},
          "mark": {"type": "line", "color": "#2e2783", "strokeWidth": 3, "clip": true},
          "encoding": {
            "x": {"field": "w", "type": "quantitative", "axis": {"orient": "top", "values": [950,1050,1150,1250,1350,1450,1550,1650], "tickSize": -8, "labels": false, "title": null, "domain": false}},
            "y": {"field": "v", "type": "quantitative", "axis": null}
          }
        },
        {
          "data": {"values": [{"w": 1550, "v": 6.15, "t": "Δ"}]},
          "mark": {"type": "text", "font": "Liberation Serif", "fontSize": 34, "color": "#2e2783", "align": "left", "baseline": "alphabetic"},
          "encoding": {"x": {"field": "w", "type": "quantitative", "axis": null}, "y": {"field": "v", "type": "quantitative", "axis": null}, "text": {"field": "t"}}
        },
        {
          "data": {"values": [{"w": 1512, "v": 6.15, "t": "/"}]},
          "mark": {"type": "text", "font": "Liberation Sans", "fontSize": 30, "fontWeight": "bold", "fontStyle": "italic", "color": "#111111", "align": "left", "baseline": "alphabetic"},
          "encoding": {"x": {"field": "w", "type": "quantitative", "axis": null}, "y": {"field": "v", "type": "quantitative", "axis": null}, "text": {"field": "t"}}
        },
        {
          "data": {"values": [{"w": 1487, "v": 6.15, "t": "Λ"}]},
          "mark": {"type": "text", "font": "Liberation Serif", "fontSize": 34, "color": "#e3262b", "align": "left", "baseline": "alphabetic"},
          "encoding": {"x": {"field": "w", "type": "quantitative", "axis": null}, "y": {"field": "v", "type": "quantitative", "axis": null}, "text": {"field": "t"}}
        },
        {
          "data": {"values": [{"w": 1135, "v": 1.89, "t": "ACN /"}]},
          "mark": {"type": "text", "font": "Liberation Sans", "fontSize": 28, "fontWeight": "bold", "color": "#111111", "align": "left", "baseline": "alphabetic"},
          "encoding": {"x": {"field": "w", "type": "quantitative", "axis": null}, "y": {"field": "v", "type": "quantitative", "axis": null}, "text": {"field": "t"}}
        },
        {
          "data": {"values": [{"w": 1114, "v": 1.2, "t": "DMSO"}]},
          "mark": {"type": "text", "font": "Liberation Sans", "fontSize": 28, "fontWeight": "bold", "color": "#8c8c8c", "align": "left", "baseline": "alphabetic"},
          "encoding": {"x": {"field": "w", "type": "quantitative", "axis": null}, "y": {"field": "v", "type": "quantitative", "axis": null}, "text": {"field": "t"}}
        }
      ]
    }
  ]
}
